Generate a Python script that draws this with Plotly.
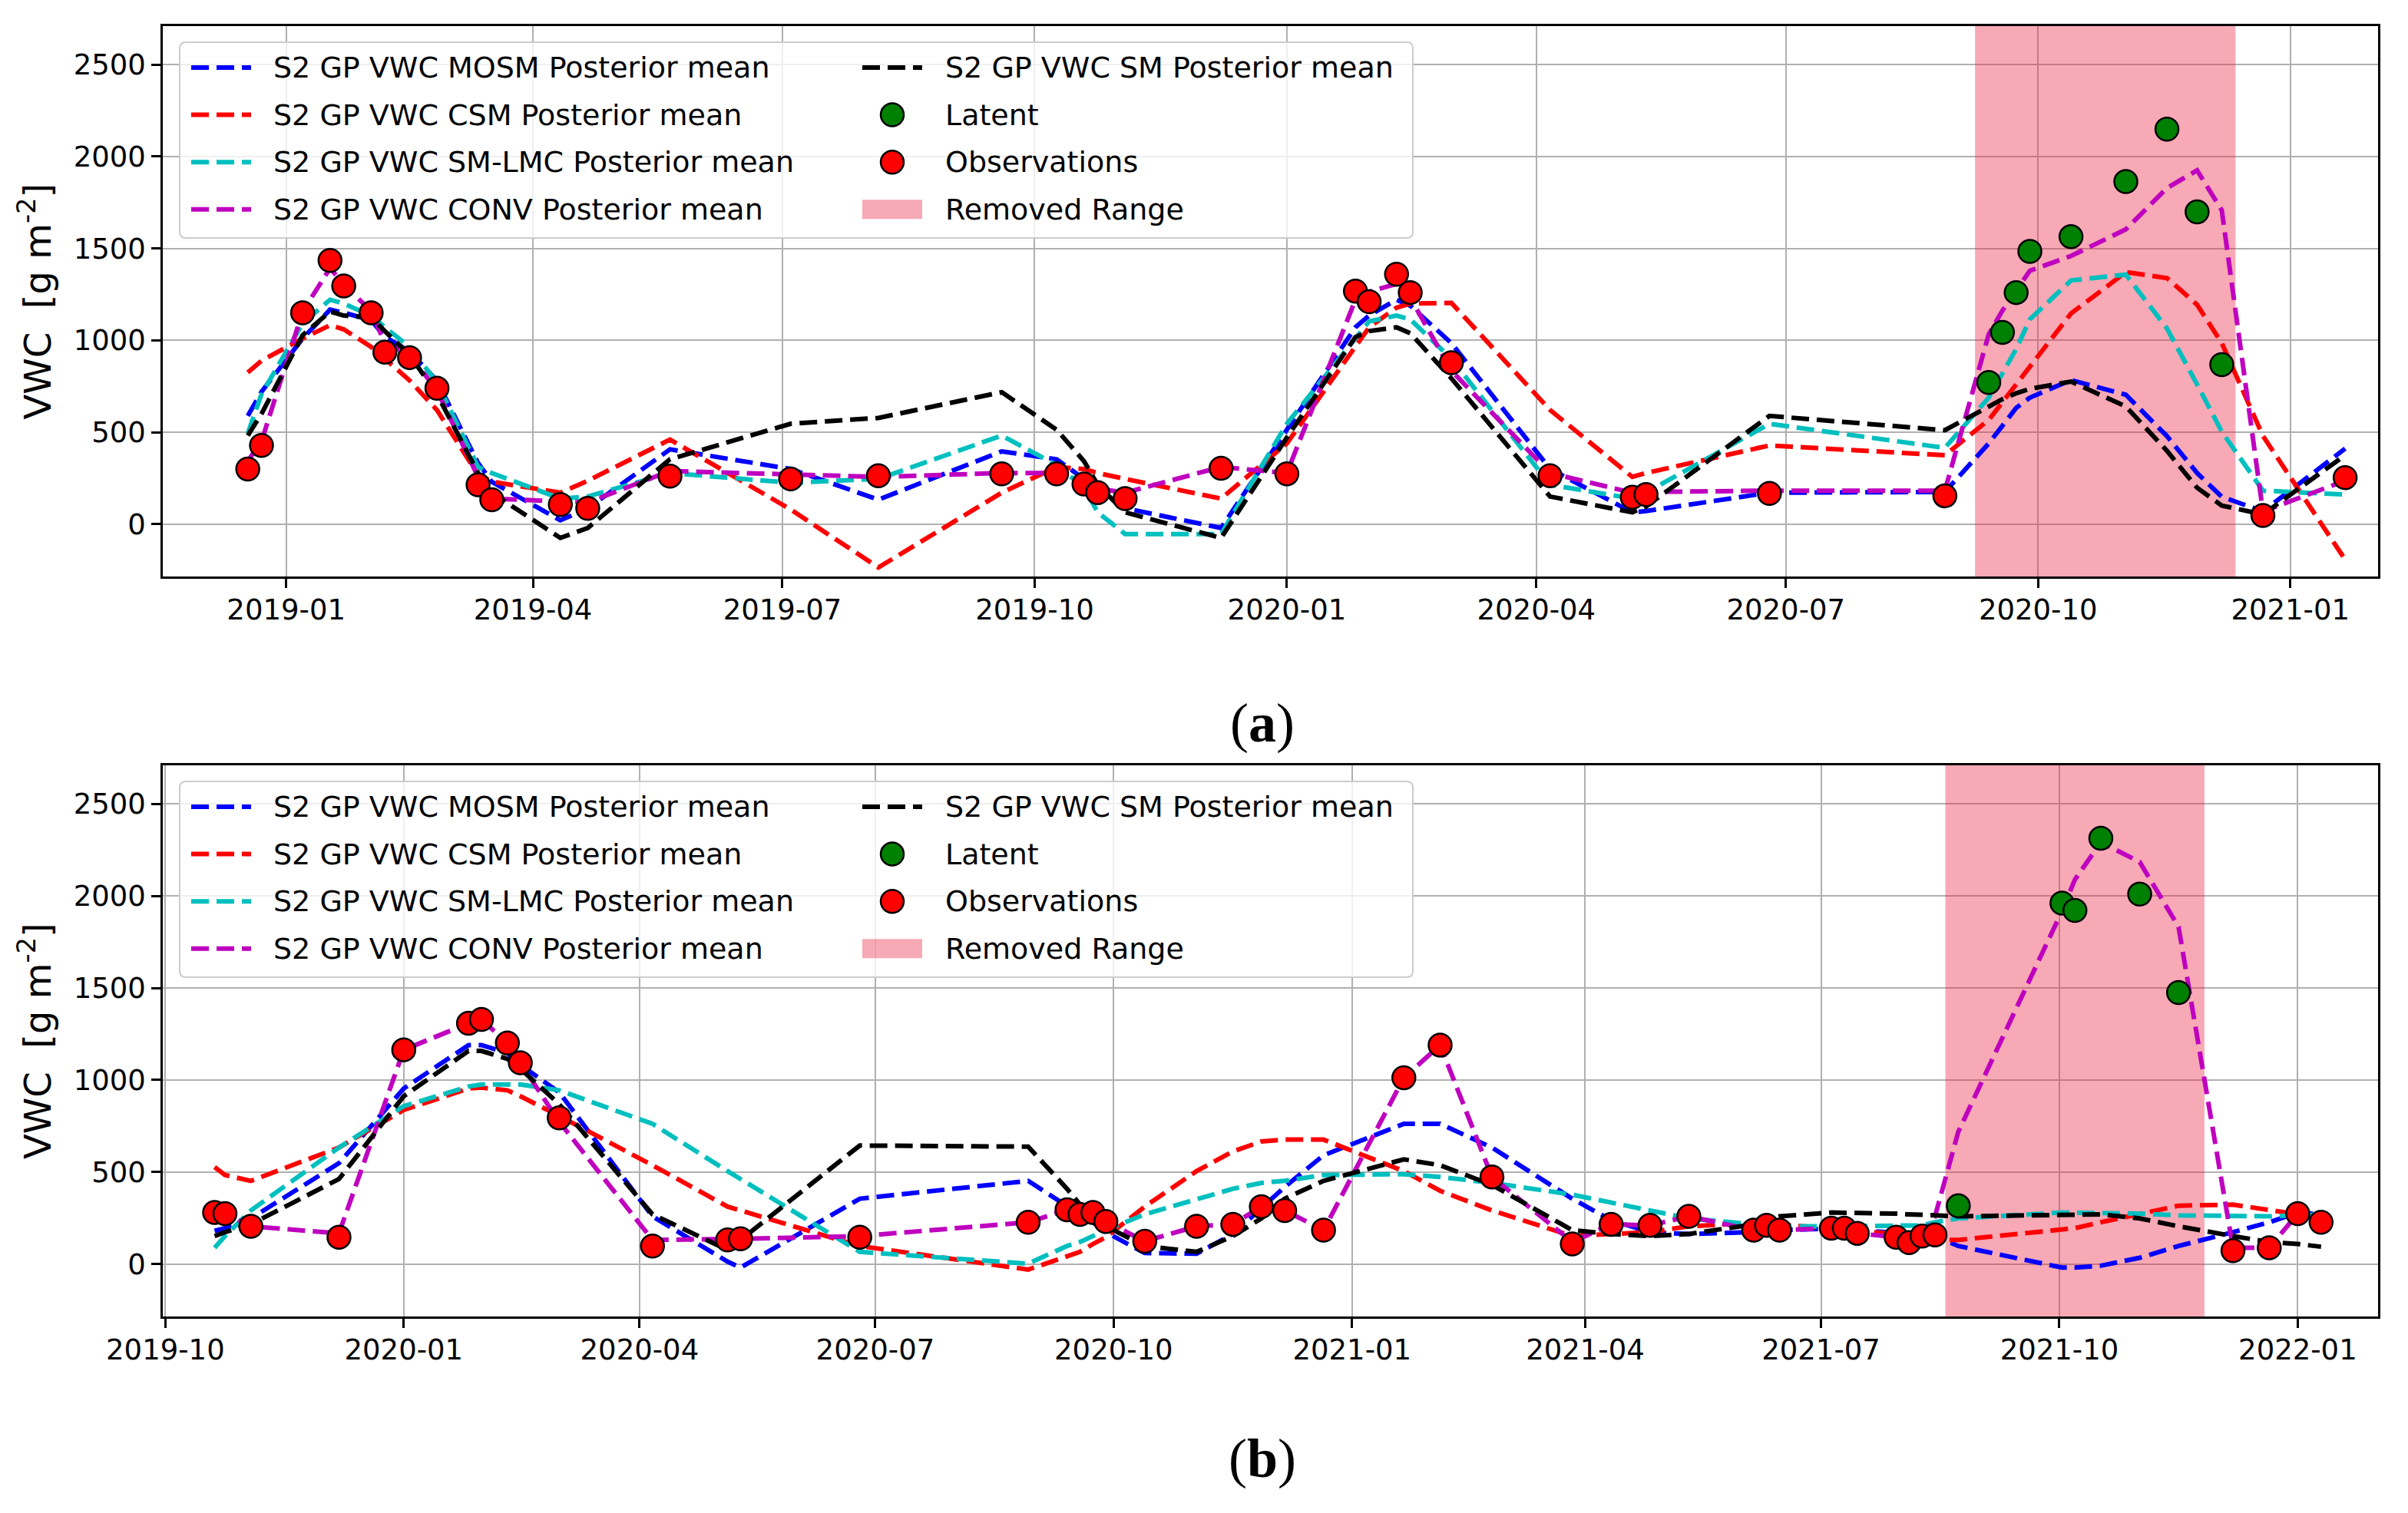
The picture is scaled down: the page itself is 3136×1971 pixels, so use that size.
import plotly.graph_objects as go

# ---------------- DATA: panel (a) ----------------
A_DATES = ["2018-12-18", "2018-12-23", "2019-01-07", "2019-01-17", "2019-01-22", "2019-02-01",
           "2019-02-06", "2019-02-15", "2019-02-25", "2019-03-12", "2019-03-17", "2019-04-11",
           "2019-04-21", "2019-05-21", "2019-07-04", "2019-08-05", "2019-09-19", "2019-10-09",
           "2019-10-19", "2019-10-24", "2019-11-03", "2019-12-08", "2020-01-01", "2020-01-26",
           "2020-01-31", "2020-02-10", "2020-02-15", "2020-03-01", "2020-04-06", "2020-05-06",
           "2020-05-11", "2020-06-25", "2020-08-28", "2020-09-13", "2020-09-18", "2020-09-23",
           "2020-09-28", "2020-10-13", "2020-11-02", "2020-11-17", "2020-11-28", "2020-12-07",
           "2020-12-22", "2021-01-21"]
A_MOSM = [589, 720, 1010, 1167, 1150, 1110, 1020, 940, 780, 332, 230, 21, 86, 407, 300, 133,
          396, 353, 246, 193, 86, -21, 514, 1071, 1135, 1221, 1189, 985, 300, 64, 71, 171, 175,
          439, 535, 632, 688, 784, 704, 479, 278, 149, 69, 411]
A_CSM = [825, 889, 1010, 1082, 1060, 964, 900, 782, 621, 268, 231, 171, 236, 460, 80, -236,
         171, 311, 300, 278, 246, 139, 439, 964, 1071, 1178, 1200, 1204, 621, 257, 278, 428, 375,
         567, 664, 760, 865, 1146, 1371, 1339, 1194, 985, 480, -193]
A_SMLMC = [493, 707, 1092, 1221, 1200, 1135, 1071, 964, 771, 311, 278, 139, 150, 278, 225, 246,
           482, 321, 200, 64, -54, -54, 546, 1007, 1103, 1135, 1114, 900, 214, 139, 171, 546, 415,
           688, 824, 953, 1114, 1326, 1358, 1065, 760, 503, 182, 161]
A_CONV = [343, 450, 1157, 1392, 1307, 1157, 985, 921, 728, 257, 139, 128, 118, 289, 268, 257,
          278, 278, 225, 193, 171, 311, 278, 1221, 1264, 1307, 1232, 835, 278, 171, 175, 182, 182,
          1033, 1162, 1274, 1379, 1459, 1604, 1829, 1925, 1708, 69, 236]
A_SM = [482, 600, 1028, 1157, 1135, 1125, 1050, 921, 707, 278, 170, -75, -21, 353, 546, 578,
        718, 514, 343, 214, 64, -75, 471, 1018, 1050, 1071, 1039, 793, 150, 64, 96, 589, 511,
        640, 680, 712, 736, 776, 640, 399, 198, 101, 53, 375]
A_OBS_DATES = ["2018-12-18", "2018-12-23", "2019-01-07", "2019-01-17", "2019-01-22", "2019-02-01",
               "2019-02-06", "2019-02-15", "2019-02-25", "2019-03-12", "2019-03-17", "2019-04-11",
               "2019-04-21", "2019-05-21", "2019-07-04", "2019-08-05", "2019-09-19", "2019-10-09",
               "2019-10-19", "2019-10-24", "2019-11-03", "2019-12-08", "2020-01-01", "2020-01-26",
               "2020-01-31", "2020-02-10", "2020-02-15", "2020-03-01", "2020-04-06", "2020-05-06",
               "2020-05-11", "2020-06-25", "2020-08-28", "2020-12-22", "2021-01-21"]
A_OBS = [300, 428, 1150, 1435, 1296, 1150, 936, 906, 739, 214, 133, 107, 86, 261, 246, 263, 274,
         274, 218, 171, 139, 304, 274, 1268, 1210, 1360, 1260, 878, 263, 146, 161, 167, 154, 47, 253]
A_LAT_DATES = ["2020-09-13", "2020-09-18", "2020-09-23", "2020-09-28", "2020-10-13",
               "2020-11-02", "2020-11-17", "2020-11-28", "2020-12-07"]
A_LAT = [771, 1043, 1260, 1484, 1564, 1864, 2149, 1699, 868]
A_REMOVED = ["2020-09-08", "2020-12-12"]
A_XRANGE = ["2018-11-17", "2021-02-02"]

# ---------------- DATA: panel (b) ----------------
B_DATES = ["2019-10-20", "2019-10-24", "2019-11-03", "2019-12-07", "2020-01-01", "2020-01-26",
           "2020-01-31", "2020-02-10", "2020-02-15", "2020-03-01", "2020-04-06", "2020-05-05",
           "2020-05-10", "2020-06-25", "2020-08-29", "2020-09-13", "2020-09-18", "2020-09-23",
           "2020-09-28", "2020-10-13", "2020-11-02", "2020-11-16", "2020-11-27", "2020-12-06",
           "2020-12-21", "2021-01-21", "2021-02-04", "2021-02-24", "2021-03-27", "2021-04-11",
           "2021-04-26", "2021-05-11", "2021-06-05", "2021-06-10", "2021-06-15", "2021-07-05",
           "2021-07-10", "2021-07-15", "2021-07-30", "2021-08-04", "2021-08-09", "2021-08-14",
           "2021-08-23", "2021-10-02", "2021-10-07", "2021-10-17", "2021-11-01", "2021-11-16",
           "2021-12-07", "2021-12-21", "2022-01-01", "2022-01-10"]
B_MOSM = [180, 195, 248, 548, 954, 1190, 1190, 1147, 1083, 933, 259, 13, -19, 355, 452, 312, 270,
          227, 173, 60, 56, 163, 302, 419, 591, 762, 762, 633, 355, 238, 173, 163, 173, 184, 184,
          195, 195, 184, 173, 165, 158, 152, 98, -19, -19, -9, 34, 98, 173, 227, 280, 270]
B_CSM = [527, 484, 452, 633, 837, 954, 959, 944, 912, 805, 537, 312, 291, 98, -30, 45, 66, 109,
         146, 312, 505, 612, 666, 676, 676, 505, 398, 291, 152, 163, 173, 205, 227, 227, 216, 195,
         190, 184, 163, 150, 140, 131, 131, 184, 195, 227, 274, 317, 323, 291, 270, 238]
B_SMLMC = [88, 152, 291, 633, 858, 965, 976, 980, 976, 944, 762, 505, 462, 66, 2, 98, 120, 152,
           184, 270, 355, 409, 441, 452, 484, 488, 473, 441, 377, 334, 291, 248, 216, 212, 205,
           205, 205, 205, 205, 205, 210, 227, 248, 280, 280, 280, 274, 265, 259, 259, 265, 270]
B_CONV = [280, 274, 205, 167, 1164, 1308, 1329, 1201, 1094, 773, 131, 131, 137, 152, 227, 295,
          270, 280, 231, 124, 205, 216, 312, 291, 184, 1012, 1190, 473, 120, 216, 210, 259, 184,
          210, 184, 195, 195, 167, 146, 116, 152, 259, 719, 1918, 2089, 2292, 2185, 1832, 88, 88,
          274, 227]
B_SM = [152, 173, 216, 462, 912, 1158, 1158, 1115, 1061, 869, 270, 77, 131, 644, 638, 409, 323,
        259, 205, 98, 66, 152, 248, 355, 452, 569, 537, 430, 184, 163, 152, 163, 216, 238, 259,
        280, 280, 280, 274, 270, 270, 265, 259, 270, 270, 270, 248, 205, 152, 120, 109, 94]
B_OBS_DATES = ["2019-10-20", "2019-10-24", "2019-11-03", "2019-12-07", "2020-01-01", "2020-01-26",
               "2020-01-31", "2020-02-10", "2020-02-15", "2020-03-01", "2020-04-06", "2020-05-05",
               "2020-05-10", "2020-06-25", "2020-08-29", "2020-09-13", "2020-09-18", "2020-09-23",
               "2020-09-28", "2020-10-13", "2020-11-02", "2020-11-16", "2020-11-27", "2020-12-06",
               "2020-12-21", "2021-01-21", "2021-02-04", "2021-02-24", "2021-03-27", "2021-04-11",
               "2021-04-26", "2021-05-11", "2021-06-05", "2021-06-10", "2021-06-15", "2021-07-05",
               "2021-07-10", "2021-07-15", "2021-07-30", "2021-08-04", "2021-08-09", "2021-08-14",
               "2021-12-07", "2021-12-21", "2022-01-01", "2022-01-10"]
B_OBS = [280, 274, 205, 146, 1164, 1308, 1329, 1201, 1094, 794, 98, 131, 137, 146, 227, 295, 270,
         280, 231, 124, 205, 216, 312, 291, 184, 1012, 1190, 473, 109, 216, 210, 259, 184, 210,
         184, 195, 195, 167, 146, 116, 152, 158, 73, 88, 274, 227]
B_LAT_DATES = ["2021-08-23", "2021-10-02", "2021-10-07", "2021-10-17", "2021-11-01", "2021-11-16"]
B_LAT = [317, 1961, 1922, 2314, 2010, 1475]
B_REMOVED = ["2021-08-18", "2021-11-26"]
B_XRANGE = ["2019-09-30", "2022-02-01"]

Y_RANGE = [-285, 2710]
Y_TICKS = [0, 500, 1000, 1500, 2000, 2500]

SERIES_NAMES = ["S2 GP VWC MOSM Posterior mean", "S2 GP VWC CSM Posterior mean",
                "S2 GP VWC SM-LMC Posterior mean", "S2 GP VWC CONV Posterior mean",
                "S2 GP VWC SM Posterior mean"]
SERIES_COLORS = ["#0000ff", "#ff0000", "#00bfbf", "#bf00bf", "#000000"]
LATENT_NAME, OBS_NAME, REMOVED_NAME = "Latent", "Observations", "Removed Range"
LATENT_COLOR, OBS_COLOR = "#008000", "#ff0000"
PINK = "rgba(235,30,60,0.38)"

# ---------------- FIGURE ----------------
# the page body adds an 8 px margin; the figure is sized so that page pixels line up
OFF = 8
W, H = 3136 - OFF, 1971 - OFF
ML, MR, MT, MB = 212 - OFF, 39, 34 - OFF, H - (1715 - OFF)
PW, PH = W - ML - MR, H - MT - MB
FONT = "DejaVu Sans"
LW = 6
DASH = "23px,10px"
MSIZE = 30

fig = go.Figure()


def add_panel(xa, ya, dates, lines, obs_d, obs_v, lat_d, lat_v, removed):
    fig.add_trace(go.Scatter(
        x=[removed[0], removed[1], removed[1], removed[0], removed[0]],
        y=[Y_RANGE[0], Y_RANGE[0], Y_RANGE[1], Y_RANGE[1], Y_RANGE[0]],
        mode="lines", fill="toself", fillcolor=PINK, line=dict(width=0, color=PINK),
        name=REMOVED_NAME, showlegend=False, xaxis=xa, yaxis=ya, hoverinfo="skip"))
    for vals, name, col in zip(lines, SERIES_NAMES, SERIES_COLORS):
        fig.add_trace(go.Scatter(
            x=dates, y=vals, mode="lines", name=name, showlegend=False,
            line=dict(color=col, width=LW, dash=DASH), xaxis=xa, yaxis=ya))
    fig.add_trace(go.Scatter(
        x=lat_d, y=lat_v, mode="markers", name=LATENT_NAME, showlegend=False,
        marker=dict(color=LATENT_COLOR, size=MSIZE, line=dict(color="black", width=2.5)),
        xaxis=xa, yaxis=ya))
    fig.add_trace(go.Scatter(
        x=obs_d, y=obs_v, mode="markers", name=OBS_NAME, showlegend=False,
        marker=dict(color=OBS_COLOR, size=MSIZE, line=dict(color="black", width=2.5)),
        xaxis=xa, yaxis=ya))


add_panel("x", "y", A_DATES, [A_MOSM, A_CSM, A_SMLMC, A_CONV, A_SM],
          A_OBS_DATES, A_OBS, A_LAT_DATES, A_LAT, A_REMOVED)
add_panel("x2", "y2", B_DATES, [B_MOSM, B_CSM, B_SMLMC, B_CONV, B_SM],
          B_OBS_DATES, B_OBS, B_LAT_DATES, B_LAT, B_REMOVED)


def px_x(px):
    """page pixel x -> paper coordinate"""
    return (px - OFF - ML) / PW


def px_y(py):
    """page pixel y -> paper coordinate"""
    return (H - MB - (py - OFF)) / PH


axis_common = dict(showgrid=True, gridcolor="#b0b0b0", gridwidth=2, showline=True,
                   linecolor="black", linewidth=2.5, mirror=True, ticks="outside",
                   ticklen=12, tickwidth=2.5, tickcolor="black", zeroline=False,
                   tickfont=dict(family=FONT, size=37, color="black"))

dom_a = [px_y(751), 1.0]
dom_b = [0.0, px_y(997)]

fig.update_layout(
    width=W, height=H, margin=dict(l=ML, r=MR, t=MT, b=MB),
    paper_bgcolor="white", plot_bgcolor="white",
    font=dict(family=FONT, size=37, color="black"),
    showlegend=False,
    xaxis=dict(axis_common, domain=[0, 1], anchor="y", range=A_XRANGE, type="date",
               dtick="M3", tick0="2019-01-01", tickformat="%Y-%m", ticklabelstandoff=-3),
    yaxis=dict(axis_common, domain=dom_a, anchor="x", range=Y_RANGE, tickvals=Y_TICKS),
    xaxis2=dict(axis_common, domain=[0, 1], anchor="y2", range=B_XRANGE, type="date",
                dtick="M3", tick0="2019-01-01", tickformat="%Y-%m", ticklabelstandoff=-3),
    yaxis2=dict(axis_common, domain=dom_b, anchor="x2", range=Y_RANGE, tickvals=Y_TICKS),
)


def rounded_box(x0, y0, x1, y1, r=8):
    X0, X1 = px_x(x0), px_x(x1)
    Y0, Y1 = px_y(y1), px_y(y0)
    rx, ry = r / PW, r / PH
    return (f"M {X0+rx},{Y0} L {X1-rx},{Y0} Q {X1},{Y0} {X1},{Y0+ry} "
            f"L {X1},{Y1-ry} Q {X1},{Y1} {X1-rx},{Y1} L {X0+rx},{Y1} "
            f"Q {X0},{Y1} {X0},{Y1-ry} L {X0},{Y0+ry} Q {X0},{Y0} {X0+rx},{Y0} Z")


# ---------------- legends (two columns, drawn in paper space) ----------------
COL1_H0, COL1_H1, COL1_T = 249, 327, 356
COL2_H0, COL2_H1, COL2_T = 1123, 1201, 1231
ROW_GAP = 61.6


def add_legend(top_row_y, box_y0, box_y1):
    fig.add_shape(type="path", path=rounded_box(234, box_y0, 1840, box_y1),
                  xref="paper", yref="paper", fillcolor="rgba(255,255,255,0.8)",
                  line=dict(color="#cccccc", width=2), layer="above")
    rows = [top_row_y + i * ROW_GAP for i in range(4)]
    for ry, name, col in zip(rows, SERIES_NAMES[:4], SERIES_COLORS[:4]):
        fig.add_shape(type="line", xref="paper", yref="paper",
                      x0=px_x(COL1_H0), x1=px_x(COL1_H1), y0=px_y(ry), y1=px_y(ry),
                      line=dict(color=col, width=LW, dash=DASH), layer="above")
        fig.add_annotation(text=name, xref="paper", yref="paper", x=px_x(COL1_T - 2),
                           y=px_y(ry), xanchor="left", yanchor="middle", showarrow=False,
                           font=dict(family=FONT, size=38, color="black"))
    fig.add_shape(type="line", xref="paper", yref="paper",
                  x0=px_x(COL2_H0), x1=px_x(COL2_H1), y0=px_y(rows[0]), y1=px_y(rows[0]),
                  line=dict(color=SERIES_COLORS[4], width=LW, dash=DASH), layer="above")
    cx = (COL2_H0 + COL2_H1) / 2
    rr = MSIZE / 2
    for ry, colr in [(rows[1], LATENT_COLOR), (rows[2], OBS_COLOR)]:
        fig.add_shape(type="circle", xref="paper", yref="paper",
                      x0=px_x(cx - rr), x1=px_x(cx + rr), y0=px_y(ry + rr), y1=px_y(ry - rr),
                      fillcolor=colr, line=dict(color="black", width=2.5), layer="above")
    fig.add_shape(type="rect", xref="paper", yref="paper",
                  x0=px_x(COL2_H0), x1=px_x(COL2_H1), y0=px_y(rows[3] + 12.5),
                  y1=px_y(rows[3] - 12.5), fillcolor=PINK, line=dict(width=0), layer="above")
    for ry, name in zip(rows, [SERIES_NAMES[4], LATENT_NAME, OBS_NAME, REMOVED_NAME]):
        fig.add_annotation(text=name, xref="paper", yref="paper", x=px_x(COL2_T - 2),
                           y=px_y(ry), xanchor="left", yanchor="middle", showarrow=False,
                           font=dict(family=FONT, size=38, color="black"))


add_legend(88, 55, 310)
add_legend(1051, 1018, 1273)

# y-axis titles and panel captions
for cy in [(34 + 751) / 2, (997 + 1715) / 2]:
    fig.add_annotation(text="VWC  [g m<sup>-2</sup>]", xref="paper", yref="paper",
                       x=px_x(46), y=px_y(cy), textangle=-90, showarrow=False,
                       xanchor="center", yanchor="middle",
                       font=dict(family=FONT, size=48, color="black"))
for cy, lab in [(942, "a"), (1900, "b")]:
    fig.add_annotation(text=f"(<b>{lab}</b>)", xref="paper", yref="paper",
                       x=px_x(1644), y=px_y(cy), showarrow=False,
                       xanchor="center", yanchor="middle",
                       font=dict(family="Liberation Serif", size=72, color="black"))

fig.write_html("out.html")
